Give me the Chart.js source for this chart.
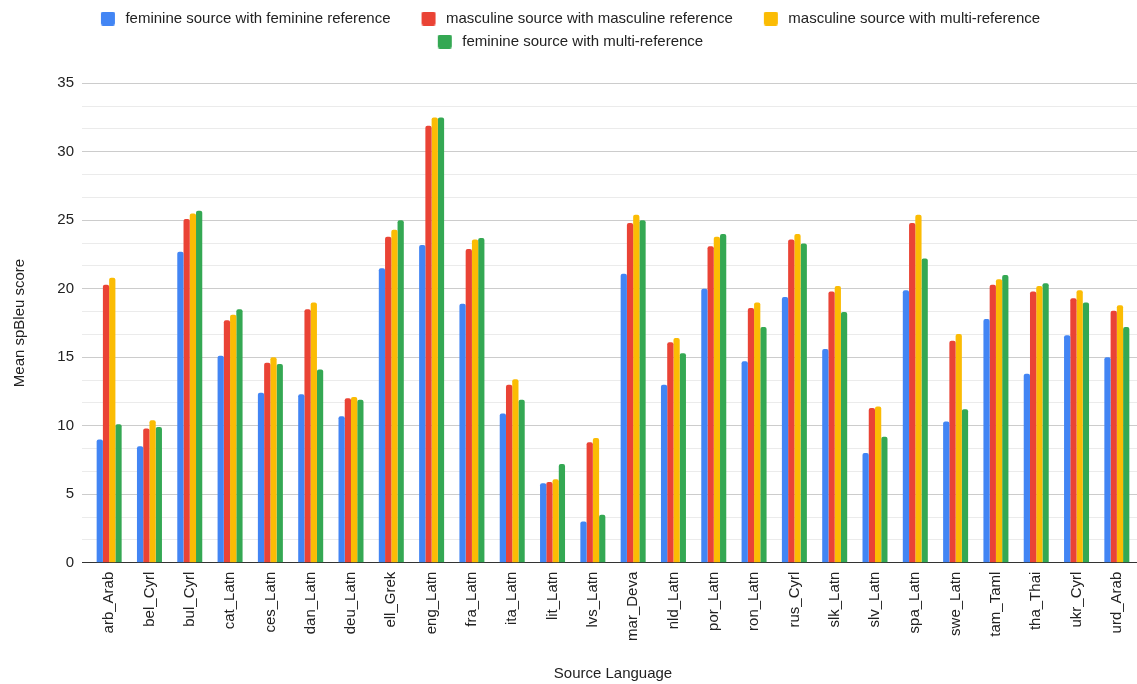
<!DOCTYPE html>
<html>
<head>
<meta charset="utf-8">
<script src="https://cdn.jsdelivr.net/npm/chart.js@4/dist/chart.umd.min.js"></script>
<style>
html,body{margin:0;padding:0;background:#fff;overflow:hidden}
canvas{display:block}
</style>
</head>
<body>
<canvas id="c" width="1137" height="684"></canvas>
<script>
const categories = ['arb_Arab','bel_Cyrl','bul_Cyrl','cat_Latn','ces_Latn','dan_Latn','deu_Latn','ell_Grek','eng_Latn','fra_Latn','ita_Latn','lit_Latn','lvs_Latn','mar_Deva','nld_Latn','por_Latn','ron_Latn','rus_Cyrl','slk_Latn','slv_Latn','spa_Latn','swe_Latn','tam_Taml','tha_Thai','ukr_Cyrl','urd_Arab'];
const feminineFeminine   = [9.0, 8.5, 22.7, 15.1, 12.4, 12.3, 10.7, 21.5, 23.2, 18.9, 10.9, 5.8, 3.0, 21.1, 13.0, 20.0, 14.7, 19.4, 15.6, 8.0, 19.9, 10.3, 17.8, 13.8, 16.6, 15.0];
const masculineMasculine = [20.3, 9.8, 25.1, 17.7, 14.6, 18.5, 12.0, 23.8, 31.9, 22.9, 13.0, 5.9, 8.8, 24.8, 16.1, 23.1, 18.6, 23.6, 19.8, 11.3, 24.8, 16.2, 20.3, 19.8, 19.3, 18.4];
const masculineMulti     = [20.8, 10.4, 25.5, 18.1, 15.0, 19.0, 12.1, 24.3, 32.5, 23.6, 13.4, 6.1, 9.1, 25.4, 16.4, 23.8, 19.0, 24.0, 20.2, 11.4, 25.4, 16.7, 20.7, 20.2, 19.9, 18.8];
const feminineMulti      = [10.1, 9.9, 25.7, 18.5, 14.5, 14.1, 11.9, 25.0, 32.5, 23.7, 11.9, 7.2, 3.5, 25.0, 15.3, 24.0, 17.2, 23.3, 18.3, 9.2, 22.2, 11.2, 21.0, 20.4, 19.0, 17.2];
const seriesLabels = ['feminine source with feminine reference','masculine source with masculine reference','masculine source with multi-reference','feminine source with multi-reference'];
const seriesValues = [feminineFeminine, masculineMasculine, masculineMulti, feminineMulti];
const seriesColors = ['#4285F4','#EA4335','#FBBC04','#34A853'];
const yMin = 0, yMax = 35, yMajorStep = 5, yMinorStep = 5/3;
const yTitle = 'Mean spBleu score';
const xTitle = 'Source Language';

const FONT = '"Liberation Sans", Arial, Helvetica, sans-serif';
Chart.defaults.font.family = FONT;
Chart.defaults.font.size = 15;
Chart.defaults.color = '#222';

function legendSwatch(color) {
  const c = document.createElement('canvas');
  c.width = 40; c.height = 14;
  const g = c.getContext('2d');
  g.fillStyle = color;
  g.beginPath();
  if (g.roundRect) g.roundRect(23, 0, 14, 14, 2); else g.rect(23, 0, 14, 14);
  g.fill();
  return c;
}
const swatches = seriesColors.map(legendSwatch);

const isMajor = v => Math.abs(v / yMajorStep - Math.round(v / yMajorStep)) < 1e-6;
const gridColor = ctx => {
  const v = ctx.tick ? ctx.tick.value : 0;
  if (Math.abs(v) < 1e-6) return '#333333';
  return isMajor(v) ? '#cccccc' : '#ebebeb';
};

const legendTweak = {
  id: 'legendTweak',
  beforeLayout(chart) {
    const lg = chart.legend;
    if (!lg || lg._tweaked) return;
    lg._tweaked = true;
    const fit = lg.fit;
    lg.fit = function () {
      fit.call(this);
      this.height += 24.3;
      if (this.lineWidths) this.lineWidths = this.lineWidths.map(w => w + 19);
    };
  }
};

new Chart(document.getElementById('c'), {
  type: 'bar',
  data: {
    labels: categories,
    datasets: seriesValues.map((vals, i) => ({
      label: seriesLabels[i],
      data: vals,
      backgroundColor: seriesColors[i],
      borderWidth: 0,
      borderRadius: 2,
      barPercentage: 1,
      categoryPercentage: 0.62
    }))
  },
  options: {
    responsive: false,
    animation: false,
    devicePixelRatio: 1,
    layout: { padding: { top: 3, left: 0, right: 0, bottom: 0 } },
    plugins: {
      legend: {
        position: 'top',
        labels: {
          usePointStyle: true,
          pointStyleWidth: 40,
          padding: 8,
          color: '#222',
          font: { size: 15 },
          generateLabels(chart) {
            const items = Chart.defaults.plugins.legend.labels.generateLabels(chart);
            return items.map((it, i) => Object.assign(it, { pointStyle: swatches[i] }));
          }
        }
      },
      tooltip: { enabled: false }
    },
    scales: {
      x: {
        grid: { display: false, drawTicks: false },
        border: { display: true, color: '#333333', width: 1 },
        ticks: { minRotation: 90, maxRotation: 90, autoSkip: false, padding: 9, color: '#222', font: { size: 15 } },
        title: { display: true, text: xTitle, color: '#222', font: { size: 15 }, padding: { top: 0, bottom: 1 } },
        afterFit(s) { s.height = 121.3; s.paddingRight = 0; s.paddingLeft = 0; }
      },
      y: {
        min: yMin, max: yMax,
        border: { display: false },
        grid: { color: gridColor, tickColor: gridColor, tickLength: 7, drawTicks: true, lineWidth: 1 },
        ticks: {
          stepSize: yMinorStep, autoSkip: false, padding: 8, color: '#222', font: { size: 15 },
          callback: v => isMajor(v) ? String(Math.round(v)) : ''
        },
        title: { display: true, text: yTitle, color: '#222', font: { size: 15 }, padding: { top: 11, bottom: 0 } },
        afterFit(s) { s.width = 89; }
      }
    }
  },
  plugins: [legendTweak]
});
</script>
</body>
</html>
